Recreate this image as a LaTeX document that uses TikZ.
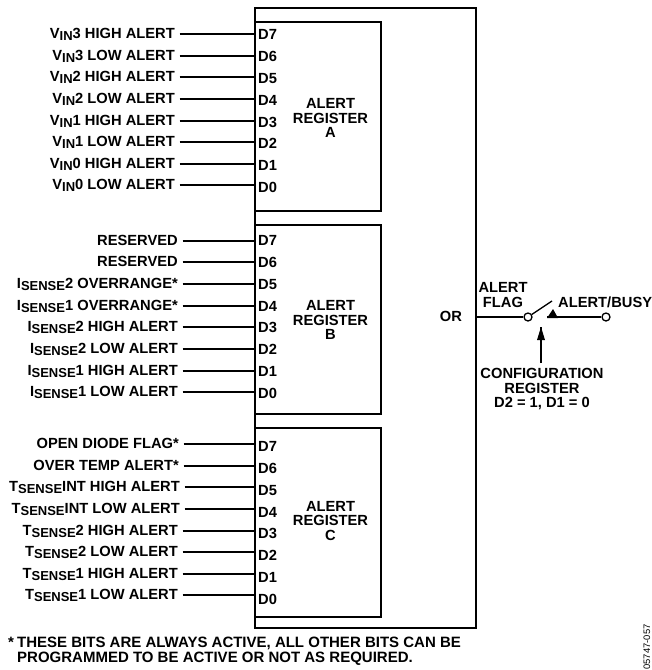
\documentclass[tikz,border=0pt]{standalone}
\usepackage{fontspec}
\setmainfont{Liberation Sans}
\newcommand{\sbs}[1]{\raisebox{-0.36ex}{\fontsize{13}{13}\selectfont #1}}
\begin{document}
\begin{tikzpicture}[x=1pt,y=-1pt,
  every node/.style={font=\fontsize{14.7}{14.8}\selectfont\bfseries,inner sep=0pt},
  boxline/.style={draw=black,line width=1.6pt},
  lbl/.style={anchor=east,text height=10pt,text depth=0pt},
  bit/.style={anchor=west,text height=10pt,text depth=0pt},
  wire/.style={line width=1.3pt},
  pin/.style={circle,draw=black,fill=white,line width=1.3pt,minimum size=8pt},
  centred/.style={align=center}]
\useasboundingbox (0,0) rectangle (652,670);
\node[boxline,anchor=north west,minimum width=221pt,minimum height=620pt] (outer) at (254,7) {};
\node[boxline,anchor=north west,minimum width=126pt,minimum height=189pt] (regA) at (254,21) {};
\node[boxline,anchor=north west,minimum width=126pt,minimum height=189pt] (regB) at (254,224) {};
\node[boxline,anchor=north west,minimum width=126pt,minimum height=189pt] (regC) at (254,427) {};
\node[centred] (tA) at (330.5,118) {ALERT\\REGISTER\\A};
\node[centred] (tB) at (330.5,320) {ALERT\\REGISTER\\B};
\node[centred] (tC) at (330.5,521) {ALERT\\REGISTER\\C};
\foreach \n/\y/\e/\t in {
 a7/34/175/{V\sbs{IN}3 HIGH ALERT},a6/56/175/{V\sbs{IN}3 LOW ALERT},
 a5/77/175/{V\sbs{IN}2 HIGH ALERT},a4/99/175/{V\sbs{IN}2 LOW ALERT},
 a3/121/175/{V\sbs{IN}1 HIGH ALERT},a2/142/175/{V\sbs{IN}1 LOW ALERT},
 a1/164/175/{V\sbs{IN}0 HIGH ALERT},a0/185/175/{V\sbs{IN}0 LOW ALERT},
 b7/241/178/{RESERVED},b6/262/178/{RESERVED},
 b5/284/178/{I\sbs{SENSE}2 OVERRANGE*},b4/306/178/{I\sbs{SENSE}1 OVERRANGE*},
 b3/327/178/{I\sbs{SENSE}2 HIGH ALERT},b2/349/178/{I\sbs{SENSE}2 LOW ALERT},
 b1/371/178/{I\sbs{SENSE}1 HIGH ALERT},b0/392/178/{I\sbs{SENSE}1 LOW ALERT},
 c7/444/179/{OPEN DIODE FLAG*},c6/466/179/{OVER TEMP ALERT*},
 c5/487/180/{T\sbs{SENSE}INT HIGH ALERT},c4/509/180/{T\sbs{SENSE}INT LOW ALERT},
 c3/531/178/{T\sbs{SENSE}2 HIGH ALERT},c2/552/178/{T\sbs{SENSE}2 LOW ALERT},
 c1/574/178/{T\sbs{SENSE}1 HIGH ALERT},c0/595/178/{T\sbs{SENSE}1 LOW ALERT}}{
  \node[lbl] (l\n) at (\e,\y-1) {\t};
  \coordinate (w\n) at (\e+4.5,\y);
  \draw[wire] (w\n) -- (w\n -| outer.west);
}
\foreach \n/\y/\t in {a7/34/D7,a6/56/D6,a5/78/D5,a4/100/D4,a3/122/D3,a2/143/D2,a1/165/D1,a0/187/D0,
 b7/240/D7,b6/262/D6,b5/284/D5,b4/306/D4,b3/327/D3,b2/349/D2,b1/371/D1,b0/393/D0,
 c7/446/D7,c6/468/D6,c5/490/D5,c4/512/D4,c3/533/D3,c2/555/D2,c1/577/D1,c0/599/D0}{
  \node[bit] (d\n) at (258,\y) {\t};
}
\node (or) at (451,316) {OR};
\node[centred] (flag) at (503,295) {ALERT\\FLAG};
\node[anchor=west] (busy) at (558,302) {ALERT/BUSY};
\node[pin] (p1) at (528,317) {};
\node[pin] (p2) at (606,317) {};
\coordinate (sw) at (552,301);
\draw[wire] (outer.east |- p1) -- (p1);
\draw[wire] (p1) -- (sw);
\coordinate (tipL) at (547,317);
\draw[wire] (tipL) -- (p2);
\fill (547,318) -- (553,309) -- (558,318) -- cycle;
\node[centred] (cfg) at (542,389) {CONFIGURATION\\REGISTER\\D2 = 1, D1 = 0};
\coordinate (cfgtop) at (541,363);
\coordinate (cfgtip) at (541,327);
\draw[wire] (cfgtop) -- (cfgtip);
\fill (541,327) -- (537,340) -- (545,340) -- cycle;
\node[anchor=west,align=left,font=\fontsize{15}{15}\selectfont\bfseries] (note) at (8,651.5) {\makebox[9pt][l]{*}THESE BITS ARE ALWAYS ACTIVE, ALL OTHER BITS CAN BE\\\hspace*{9pt}PROGRAMMED TO BE ACTIVE OR NOT AS REQUIRED.};
\node[rotate=90,font=\fontsize{9.4}{10}\selectfont] (fignum) at (647,647) {05747-057};
\end{tikzpicture}
\end{document}
